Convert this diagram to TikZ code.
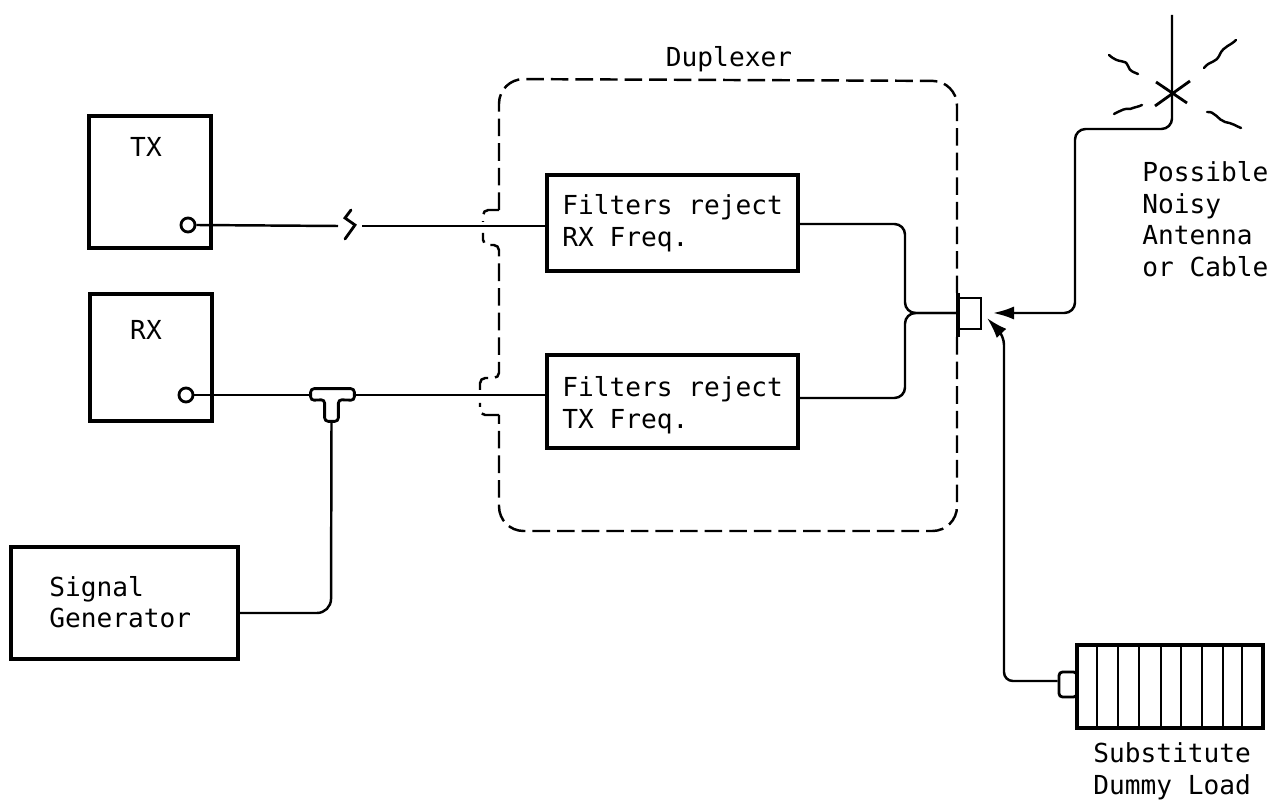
\documentclass[tikz,border=0pt]{standalone}
\usepackage{fontspec}
\setmainfont{DejaVu Sans Mono}
\usetikzlibrary{arrows.meta,fit,calc}
\tikzset{
  x=0.02cm,y=-0.02cm,
  heavy/.style={draw=black,line width=2.4pt,inner sep=0pt,fill=none},
  medium/.style={draw=black,line width=1.6pt,inner sep=0pt},
  wire/.style={draw=black,line width=1.4pt,rounded corners=6pt},
  duplexline/.style={draw=black,line width=1.4pt,dash pattern=on 10pt off 4pt,rounded corners=3pt},
  label/.style={font=\fontsize{14.9pt}{18pt}\selectfont,inner sep=0pt,align=left,text=black},
  tipped/.style={-{Latex[length=12pt,width=7.5pt]}},
  squig/.style={draw=black,line width=1.4pt,line cap=round},
}
\begin{document}
\begin{tikzpicture}
\useasboundingbox (0,0) rectangle (1274,803);
% boxes
\node[heavy,fit={(89,116)(211,248)}] (tx) {};
\node[heavy,fit={(90,294)(212,421)}] (rx) {};
\node[heavy,fit={(11,547)(238,659)}] (gen) {};
\node[heavy,fit={(547,175)(798,271)}] (frx) {};
\node[heavy,fit={(547,355)(798,448)}] (ftx) {};
% box texts
\node[label,anchor=center] at (146,147) (txt) {TX};
\node[label,anchor=center] at (146,330) (rxt) {RX};
\node[label,anchor=west] at (49,602) (gent) {Signal\\Generator};
\node[label,anchor=west] at (562,223) (frxt) {Filters reject\\RX Freq.};
\node[label,anchor=west] at (562,405) (ftxt) {Filters reject\\TX Freq.};
\node[label,anchor=center] at (729,59) (dup) {Duplexer};
\node[label,anchor=west] at (1142,219) (ant) {Possible\\Noisy\\Antenna\\or Cable};
\node[label,anchor=west] at (1093,771) (load) {Substitute\\Dummy Load};
% ports
\node[medium,circle,minimum size=8pt] at (188,225) (txp) {};
\node[medium,circle,minimum size=8pt] at (186,395) (rxp) {};
% duplexer outline
\draw[duplexline] (499,210) -- (483,210) -- (483,222);
\draw[duplexline,rounded corners=14pt]
  (499,210) -- (499,79) -- (957,81) -- (957,293);
\draw[duplexline,rounded corners=14pt]
  (957,337) -- (957,531) -- (499,531) -- (499,415);
\draw[duplexline] (499,415) -- (480,415) -- (480,403);
\draw[duplexline] (480,390) -- (480,378) -- (499,378) -- (499,245) -- (483,245) -- (483,233);
% TX line
\coordinate (bl) at (338,226);
\coordinate (br) at (362,226);
\draw[wire] (txp.east) -- (bl);
\draw[wire] (br) -- (frx.west |- br);
\draw[squig,line width=1.6pt] (351,210) -- (345,218) -- (355,225) -- (345,239);
% T connector
\node[fit={(311,389)(354,400)},inner sep=0pt] (teeh) {};
\node[fit={(325,400)(338,421)},inner sep=0pt] (teev) {};
\draw[medium,rounded corners=2pt] (teeh.north west) -- (teeh.north east) -- (teeh.south east)
  -- (teev.north east) -- (teev.south east) -- (teev.south west) -- (teev.north west)
  -- (teeh.south west) -- cycle;
\draw[wire] (rxp.east) -- (teeh.west |- rxp.east);
\draw[wire] (teeh.east |- rxp.east) -- (ftx.west |- rxp.east);
\draw[wire,rounded corners=8pt] (teev.south) -- (331,613) -- (gen.east |- 0,613);
% duplexer output connector
\node[fit={(958,298)(981,329)},inner sep=0pt,medium] (con) {};
\draw[line width=2.4pt] (958,293) -- (958,337);
\draw[wire] (frx.east |- 0,224) -- (905,224) -- (905,313) -- (con.west |- 0,313);
\draw[wire] (ftx.east |- 0,398) -- (905,398) -- (905,313) -- (con.west |- 0,313);
% antenna
\coordinate (anttop) at (1172,15);
\coordinate (anttip) at (993,313);
\draw[wire,tipped] (anttop) -- (1172,129) -- (1075,129) -- (1075,313) -- (anttip);
\draw[line width=1.6pt] (1156,82) -- (1187,103) (1155,106) -- (1190,81);
\draw[squig] (1109,55) .. controls (1120,65) and (1125,58) .. (1128,66) .. controls (1130,72) and (1134,72) .. (1138,74);
\draw[squig] (1204,68) .. controls (1210,60) and (1216,64) .. (1220,54) .. controls (1224,46) and (1230,46) .. (1236,40);
\draw[squig] (1114,114) .. controls (1122,110) and (1125,108) .. (1130,109) .. controls (1135,107) and (1138,107) .. (1142,105);
\draw[squig] (1207,112) .. controls (1215,111) and (1218,120) .. (1225,122) .. controls (1232,123) and (1236,126) .. (1241,128);
% dummy load
\node[heavy,fit={(1077,645)(1263,728)}] (dummy) {};
\foreach \xx in {1097,1118,1139,1161,1181,1202,1223,1242}
  \draw[line width=1.5pt] (\xx,645) -- (\xx,728);
\node[medium,fit={(1059,672)(1077,697)},rounded corners=2pt] (stub) {};
\coordinate (loadtip) at (987,318);
\draw[wire,tipped,rounded corners=5pt] (stub.west |- 0,681) -- (1004,681) -- (1004,336) -- (loadtip);
\end{tikzpicture}
\end{document}
